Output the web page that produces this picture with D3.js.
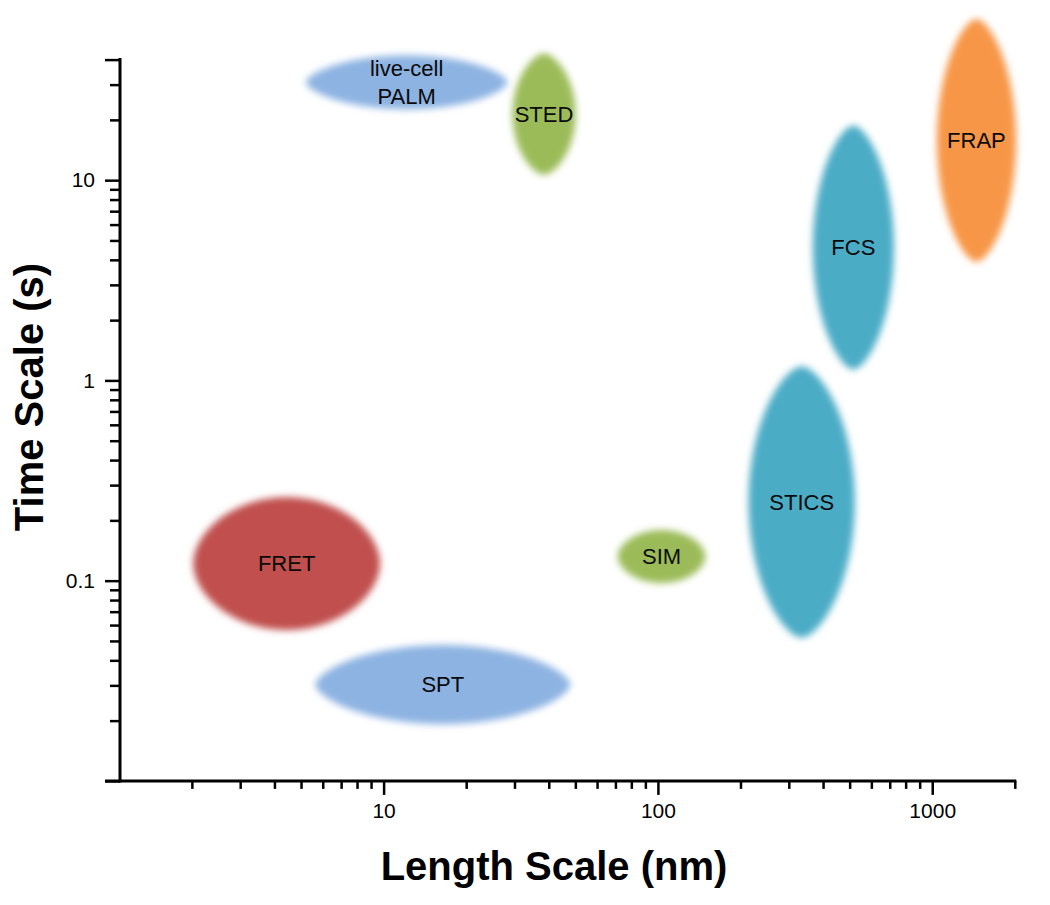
<!DOCTYPE html>
<html>
<head>
<meta charset="utf-8">
<script src="https://cdn.jsdelivr.net/npm/d3@7"></script>
<style>
  html, body { margin: 0; padding: 0; background: #fff; }
  svg { display: block; }
  text { font-family: "Liberation Sans", Arial, sans-serif; }
</style>
</head>
<body>
<svg id="chart" width="1050" height="905"></svg>
<script>
// ---- data (length in nm, time in s) ----
const techniques = ["live-cell PALM", "STED", "FRAP", "FCS", "STICS", "SIM", "FRET", "SPT"];
const labelLines = [["live-cell", "PALM"], ["STED"], ["FRAP"], ["FCS"], ["STICS"], ["SIM"], ["FRET"], ["SPT"]];
const lengthMin = [5.2, 29.5, 1040, 367, 214, 71.3, 2.02, 5.63];
const lengthMax = [28.3, 50.1, 2020, 725, 522, 149, 9.72, 48];
const timeMin = [22.6, 10.6, 3.9, 1.13, 0.0517, 0.0973, 0.0567, 0.0192];
const timeMax = [42, 43, 64, 18.8, 1.18, 0.179, 0.261, 0.0477];

const xMajorTicks = [10, 100, 1000];
const xMinorTicks = [2,3,4,5,6,7,8,9,20,30,40,50,60,70,80,90,200,300,400,500,600,700,800,900,2000];
const yMajorTicks = [0.01, 0.1, 1, 10, 40];
const yLabelTicks = [0.1, 1, 10];
const yMinorTicks = [0.02,0.03,0.04,0.05,0.06,0.07,0.08,0.09,0.2,0.3,0.4,0.5,0.6,0.7,0.8,0.9,2,3,4,5,6,7,8,9,20,30];

const xTitle = "Length Scale (nm)";
const yTitle = "Time Scale (s)";

// ---- styles ----
const colorOf = {
  "live-cell PALM": "#8DB3E2", "SPT": "#8DB3E2",
  "STED": "#9BBB59", "SIM": "#9BBB59",
  "FRAP": "#F79646",
  "FCS": "#4BACC6", "STICS": "#4BACC6",
  "FRET": "#C0504D"
};
const pointedness = { "FRET": 0.55, "SIM": 0.56 }; // default below
const defaultPointedness = 0.63;

const svg = d3.select("#chart");
const x = d3.scaleLog().domain([1, 2000]).range([109.3, 1014.8]);
const y = d3.scaleLog().domain([0.01, 40]).range([780.9, 59.6]);
const axisX = 120;  // y-axis position
const axisY = 780.9;

// blur filter
const defs = svg.append("defs");
const f = defs.append("filter").attr("id", "blur")
  .attr("x", "-20%").attr("y", "-20%").attr("width", "140%").attr("height", "140%");
f.append("feGaussianBlur").attr("stdDeviation", 3.6);

// lens-shaped path generator
function lensPath(cx, cy, rx, ry, p) {
  const pts = [];
  const N = 160;
  const vertical = ry > rx;
  const a = vertical ? ry : rx, b = vertical ? rx : ry;
  for (let i = 0; i <= N; i++) {
    const u = -a + 2 * a * i / N;
    const w = b * Math.pow(Math.max(0, 1 - (u / a) * (u / a)), p);
    pts.push(vertical ? [cx + w, cy + u] : [cx + u, cy - w]);
  }
  for (let i = N; i >= 0; i--) {
    const u = -a + 2 * a * i / N;
    const w = b * Math.pow(Math.max(0, 1 - (u / a) * (u / a)), p);
    pts.push(vertical ? [cx - w, cy + u] : [cx + u, cy + w]);
  }
  return d3.line()(pts) + "Z";
}

const items = techniques.map((t, i) => {
  const x0 = x(lengthMin[i]), x1 = x(lengthMax[i]);
  const y0 = y(timeMax[i]), y1 = y(timeMin[i]);
  return { name: t, lines: labelLines[i], cx: (x0 + x1) / 2, cy: (y0 + y1) / 2,
           rx: (x1 - x0) / 2, ry: (y1 - y0) / 2 };
});

const shapes = svg.append("g");
shapes.selectAll("path").data(items).join("path")
  .attr("d", d => lensPath(d.cx, d.cy, d.rx, d.ry, pointedness[d.name] || defaultPointedness))
  .attr("fill", d => colorOf[d.name])
  .attr("filter", "url(#blur)");

const labels = svg.append("g");
items.forEach(d => {
  const n = d.lines.length;
  d.lines.forEach((ln, j) => {
    labels.append("text")
      .attr("x", d.cx)
      .attr("y", d.cy + (j - (n - 1) / 2) * 28)
      .attr("dy", "0.35em")
      .attr("text-anchor", "middle")
      .attr("font-size", 22)
      .attr("fill", "#0a0a0a")
      .text(ln);
  });
});

// ---- axes ----
function styleAxis(g, width) {
  g.select(".domain").remove();
  g.selectAll(".tick line").attr("stroke", "#000").attr("stroke-width", width);
  g.selectAll(".tick text").attr("fill", "#000").attr("font-size", 21)
    .attr("font-family", "Liberation Sans, Arial, sans-serif");
}

// x axis
svg.append("g").attr("transform", `translate(0,${axisY})`)
  .call(d3.axisBottom(x).tickValues(xMinorTicks).tickSize(8).tickFormat(""))
  .call(g => styleAxis(g, 2.5));
svg.append("g").attr("transform", `translate(0,${axisY})`)
  .call(d3.axisBottom(x).tickValues(xMajorTicks).tickSize(14).tickPadding(8).tickFormat(d3.format("d")))
  .call(g => styleAxis(g, 2.5));

// y axis
svg.append("g").attr("transform", `translate(${axisX},0)`)
  .call(d3.axisLeft(y).tickValues(yMinorTicks).tickSize(10).tickFormat(""))
  .call(g => styleAxis(g, 2.5));
svg.append("g").attr("transform", `translate(${axisX},0)`)
  .call(d3.axisLeft(y).tickValues(yMajorTicks).tickSize(15).tickPadding(10)
    .tickFormat(d => yLabelTicks.includes(d) ? String(d) : ""))
  .call(g => styleAxis(g, 2.5));

// axis lines
svg.append("line").attr("x1", axisX - 15).attr("x2", x(2000) + 1.5)
  .attr("y1", axisY).attr("y2", axisY).attr("stroke", "#000").attr("stroke-width", 3);
svg.append("line").attr("x1", axisX).attr("x2", axisX)
  .attr("y1", y(40) - 1.5).attr("y2", axisY + 1.5).attr("stroke", "#000").attr("stroke-width", 3);

// titles
svg.append("text").attr("x", 554).attr("y", 880)
  .attr("text-anchor", "middle").attr("font-size", 40).attr("font-weight", "bold")
  .attr("fill", "#000").text(xTitle);
svg.append("text").attr("transform", "translate(43,397) rotate(-90)")
  .attr("text-anchor", "middle").attr("font-size", 40).attr("font-weight", "bold")
  .attr("fill", "#000").text(yTitle);
</script>
</body>
</html>
